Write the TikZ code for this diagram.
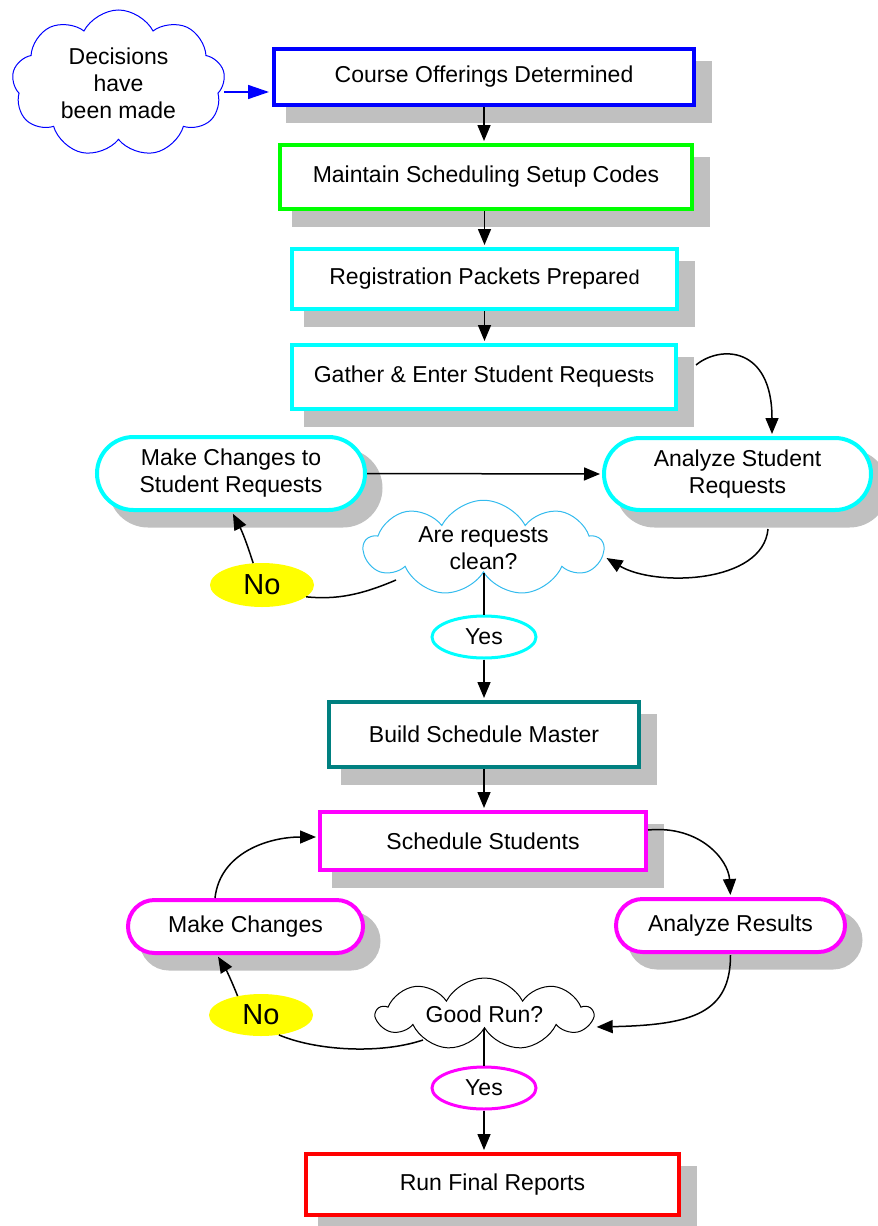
\documentclass[tikz,border=0pt]{standalone}
\usepackage{fontspec}
\setmainfont{Liberation Sans}
\usetikzlibrary{arrows.meta,shapes.symbols,shapes.misc,shapes.geometric,shadows}
\definecolor{shadowgray}{HTML}{C0C0C0}
\definecolor{pblue}{HTML}{0000FF}
\definecolor{pgreen}{HTML}{00FF00}
\definecolor{pcyan}{HTML}{00FFFF}
\definecolor{pteal}{HTML}{008080}
\definecolor{pmag}{HTML}{FF00FF}
\definecolor{pred}{HTML}{FF0000}
\definecolor{pyellow}{HTML}{FFFF00}
\definecolor{cloudblue}{HTML}{33BBEE}
\newcommand{\fsmain}{\fontsize{23}{27}\selectfont}
\newcommand{\fsno}{\fontsize{29}{32}\selectfont}
\newcommand{\fssmall}{\fontsize{20}{22}\selectfont}
\begin{document}
\begin{tikzpicture}[x=1pt,y=-1pt,
  every node/.style={font=\fsmain, text=black, inner sep=0pt, align=center},
  shad/.style={drop shadow={shadow xshift=14.5pt, shadow yshift=-14.5pt, fill=shadowgray, draw=shadowgray, line width=6pt, opacity=1}},
  procbox/.style={rectangle, draw=#1, line width=4pt, fill=white, shad},
  pill/.style={rounded rectangle, draw=#1, line width=4pt, fill=white, shad},
  thought/.style={cloud, cloud puffs=9, cloud puff arc=125, cloud ignores aspect, draw=#1, line width=1pt, fill=white},
  answer/.style={ellipse, draw=#1, line width=3pt, fill=white},
  noball/.style={ellipse, fill=pyellow, draw=none, font=\fsno},
  link/.style={draw=black, line width=1.5pt, shorten >=2pt, -{Triangle[length=16pt,width=13pt]}},
  plain/.style={draw=black, line width=1.5pt},
  bluelink/.style={draw=pblue, line width=1.5pt, shorten >=3pt, -{Triangle[length=21pt,width=14pt]}}
]
\useasboundingbox (0,0) rectangle (878,1226);
% nodes
\node[thought=pblue, minimum width=213pt, minimum height=147pt] (dec) at (118.5,83.5) {Decisions\\have\\been made};
\node[procbox=pblue, minimum width=420pt, minimum height=56pt] (b1) at (484,77) {Course Offerings Determined};
\node[procbox=pgreen, minimum width=412pt, minimum height=64pt] (b2) at (486,177) {Maintain Scheduling Setup Codes};
\node[procbox=pcyan, minimum width=385pt, minimum height=60pt] (b3) at (484.5,279) {Registration Packets Prepare{\fssmall d}};
\node[procbox=pcyan, minimum width=384pt, minimum height=64pt] (b4) at (484,377) {Gather \& Enter Student Reques{\fssmall ts}};
\node[pill=pcyan, minimum width=268pt, minimum height=73pt] (mcsr) at (231,473.5) {Make Changes to\\Student Requests};
\node[pill=pcyan, minimum width=267pt, minimum height=72pt] (asr) at (737.5,474) {Analyze Student\\Requests};
\node[thought=cloudblue, minimum width=239pt, minimum height=88pt] (clean) at (483.5,548) {Are requests\\clean?};
\node[noball, minimum width=104pt, minimum height=44pt] (no1) at (262,585) {No};
\node[answer=pcyan, minimum width=104pt, minimum height=42pt] (yes1) at (484,637) {Yes};
\node[procbox=pteal, minimum width=310pt, minimum height=65pt] (build) at (484,734.5) {Build Schedule Master};
\node[procbox=pmag, minimum width=326pt, minimum height=58pt] (ss) at (483,841) {Schedule Students};
\node[pill=pmag, minimum width=235pt, minimum height=53pt] (mc) at (245.5,926.5) {Make Changes};
\node[pill=pmag, minimum width=229pt, minimum height=53pt] (ar) at (730.5,925.5) {Analyze Results};
\node[thought=black, minimum width=215pt, minimum height=72pt] (good) at (484.5,1014) {Good Run?};
\node[noball, minimum width=104pt, minimum height=42pt] (no2) at (261,1015) {No};
\node[answer=pmag, minimum width=104pt, minimum height=42pt] (yes2) at (484,1088) {Yes};
\node[procbox=pred, minimum width=373pt, minimum height=61pt] (rf) at (492.5,1184.5) {Run Final Reports};
% connectors
\draw[bluelink] ([yshift=-8.5pt]dec.east) -- ([yshift=-8.5pt]dec.east -| b1.west);
\draw[link] (b1.south) -- (b1.south |- b2.north);
\draw[link] (b2.south -| b3.north) -- (b3.north);
\draw[link] (b3.south) -- (b3.south |- b4.north);
\draw[link] ([xshift=18pt,yshift=12pt]b4.east) .. controls +(24,-20) and +(0,-90) .. ([xshift=34.5pt]asr.north);
\draw[link] (mcsr.east) -- (asr.west);
\draw[link] ([xshift=30.5pt,yshift=-17pt]asr.south) .. controls +(-5,55) and +(50,30) .. ([yshift=-9pt]clean.east);
\draw[plain] ([xshift=-87.5pt,yshift=-32pt]clean.center) .. controls +(-35,15) and +(30,3) .. (no1.-15);
\draw[link] (no1.112) to[bend right=5] ([xshift=1pt]mcsr.south);
\draw[plain] (yes1.north |- clean.south) -- (yes1.north);
\draw[link] (yes1.south) -- (yes1.south |- build.north);
\draw[link] (build.south) -- (build.south |- ss.north);
\draw[link] ([yshift=11pt]ss.east) .. controls +(52,-5) and +(-2,-37) .. (ar.north);
\draw[link] ([yshift=-1pt]ar.south) .. controls +(0,58) and +(98,-2) .. ([yshift=-13pt]good.east);
\draw[plain] ([xshift=-61.5pt,yshift=-26pt]good.center) .. controls +(-45,15) and +(35,15) .. (no2.-48);
\draw[link] (no2.141) to[bend right=5] ([xshift=-28.5pt]mc.south);
\draw[link] ([xshift=-30.5pt]mc.north) .. controls +(5,-45) and +(-50,0) .. ([yshift=4pt]ss.west);
\draw[plain] (yes2.north |- good.south) -- (yes2.north);
\draw[link] (yes2.south) -- (yes2.south |- rf.north);
\end{tikzpicture}
\end{document}
